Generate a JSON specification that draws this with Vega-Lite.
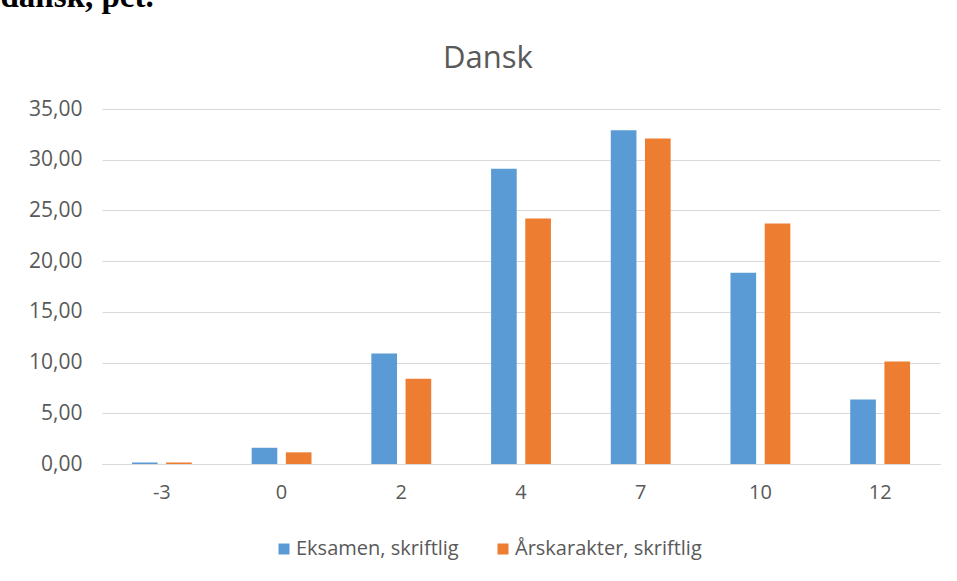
{
  "$schema": "https://vega.github.io/schema/vega-lite/v6.json",
  "width": 838,
  "height": 355,
  "autosize": "none",
  "padding": {"left": 102, "top": 109, "right": 17, "bottom": 117},
  "background": "white",
  "title": {
    "text": "Dansk",
    "font": "Open Sans",
    "fontSize": 31,
    "fontWeight": "normal",
    "color": "#595959",
    "anchor": "middle",
    "frame": "group",
    "dx": -33,
    "dy": 119,
    "offset": 0,
    "baseline": "alphabetic"
  },
  "data": {
    "values": [
      {"karakter": "-3", "serie": "Eksamen, skriftlig", "pct": 0.15},
      {"karakter": "-3", "serie": "Årskarakter, skriftlig", "pct": 0.15},
      {"karakter": "0", "serie": "Eksamen, skriftlig", "pct": 1.6},
      {"karakter": "0", "serie": "Årskarakter, skriftlig", "pct": 1.15},
      {"karakter": "2", "serie": "Eksamen, skriftlig", "pct": 10.9},
      {"karakter": "2", "serie": "Årskarakter, skriftlig", "pct": 8.4},
      {"karakter": "4", "serie": "Eksamen, skriftlig", "pct": 29.1},
      {"karakter": "4", "serie": "Årskarakter, skriftlig", "pct": 24.2},
      {"karakter": "7", "serie": "Eksamen, skriftlig", "pct": 32.9},
      {"karakter": "7", "serie": "Årskarakter, skriftlig", "pct": 32.1},
      {"karakter": "10", "serie": "Eksamen, skriftlig", "pct": 18.85},
      {"karakter": "10", "serie": "Årskarakter, skriftlig", "pct": 23.7},
      {"karakter": "12", "serie": "Eksamen, skriftlig", "pct": 6.35},
      {"karakter": "12", "serie": "Årskarakter, skriftlig", "pct": 10.1}
    ]
  },
  "mark": {"type": "bar"},
  "encoding": {
    "x": {
      "field": "karakter",
      "type": "nominal",
      "sort": ["-3", "0", "2", "4", "7", "10", "12"],
      "scale": {"paddingInner": 0.5, "paddingOuter": 0.25},
      "axis": {
        "title": null,
        "labelAngle": 0,
        "ticks": false,
        "domainColor": "#d9d9d9",
        "labelPadding": 18,
        "labelFontSize": 20,
        "labelFont": "Open Sans",
        "labelColor": "#595959"
      }
    },
    "xOffset": {
      "field": "serie",
      "type": "nominal",
      "sort": ["Eksamen, skriftlig", "Årskarakter, skriftlig"],
      "scale": {"paddingInner": 0.25, "paddingOuter": 0}
    },
    "y": {
      "field": "pct",
      "type": "quantitative",
      "scale": {"domain": [0, 35]},
      "axis": {
        "values": [0, 5, 10, 15, 20, 25, 30, 35],
        "labelExpr": "replace(format(datum.value, '.2f'), '.', ',')",
        "domain": false,
        "ticks": false,
        "gridColor": "#d9d9d9",
        "labelPadding": 20,
        "labelFontSize": 21,
        "labelFont": "Open Sans",
        "labelColor": "#595959",
        "title": "dansk, pct.",
        "titleAngle": 0,
        "titleX": -102,
        "titleY": -103,
        "titleAlign": "left",
        "titleBaseline": "alphabetic",
        "titleFont": "Liberation Serif",
        "titleFontSize": 33,
        "titleFontWeight": "bold",
        "titleColor": "#000000"
      }
    },
    "color": {
      "field": "serie",
      "type": "nominal",
      "sort": ["Eksamen, skriftlig", "Årskarakter, skriftlig"],
      "scale": {"domain": ["Eksamen, skriftlig", "Årskarakter, skriftlig"], "range": ["#5B9BD5", "#ED7D31"]},
      "legend": {
        "title": null,
        "orient": "none",
        "direction": "horizontal",
        "legendX": 172,
        "legendY": 430,
        "symbolType": "square",
        "symbolSize": 121,
        "symbolStrokeWidth": 0,
        "labelFont": "Open Sans",
        "labelFontSize": 20,
        "labelColor": "#595959",
        "labelOffset": 2,
        "labelLimit": 400,
        "columnPadding": 34
      }
    }
  },
  "config": {
    "view": {"stroke": null}
  }
}
